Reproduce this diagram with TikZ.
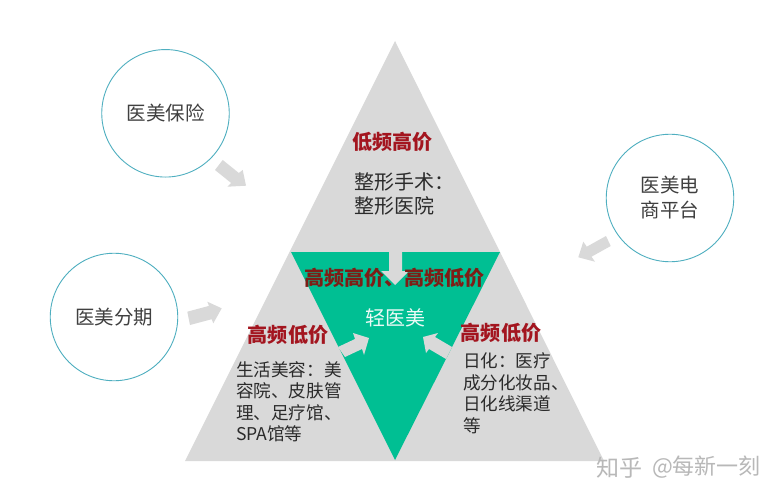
\documentclass[tikz,border=0pt]{standalone}
\usepackage{fontspec}
\setmainfont{Noto Sans CJK SC}
\definecolor{greyfill}{HTML}{D9D9D9}
\definecolor{greenfill}{HTML}{00BF93}
\definecolor{ringcol}{HTML}{4FAFC0}
\definecolor{redtxt}{HTML}{A3151F}
\definecolor{darkred}{HTML}{7E1D16}
\definecolor{bodytxt}{HTML}{2B2B2B}
\definecolor{ringtxt}{HTML}{404040}
\definecolor{marktxt}{HTML}{B8B8B8}
\tikzset{
  x=1pt,y=-1pt,
  txt/.style={inner sep=0pt,outer sep=0pt,text=bodytxt},
  ring/.style={circle,draw=ringcol,line width=0.9pt,fill=white,minimum size=127.5pt,inner sep=0pt,align=center,text=ringtxt,font=\fontsize{19.5}{25}\selectfont},
  head/.style={txt,text=redtxt,font=\fontsize{20.1}{24}\selectfont\bfseries},
  headdark/.style={txt,text=darkred,font=\fontsize{20.1}{24}\selectfont\bfseries},
  para/.style={txt,anchor=north west,align=left,font=\fontsize{17.6}{21.4}\selectfont},
  mainpara/.style={txt,anchor=north west,align=left,font=\fontsize{20}{24}\selectfont},
  blockarrow/.style={fill=greyfill,draw=none},
  wmark/.style={txt,text=marktxt,anchor=west}
}
\begin{document}
\begin{tikzpicture}
\useasboundingbox (0,0) rectangle (782,500);
\fill[white] (0,0) rectangle (782,500);
% triangles
\fill[greyfill] (395,41) -- (604,461) -- (185,461) -- cycle;
\fill[greenfill] (291,252) -- (500,252) -- (395,460) -- cycle;
% notch arrow in the green triangle
\fill[blockarrow] (389,252) -- (402,252) -- (402,271) -- (409,271) -- (395,285) -- (381,271) -- (389,271) -- cycle;
% block arrows
\fill[blockarrow] (215,170) -- (222.7,160) -- (238.85,173) -- (242.7,170) -- (246,185.7) -- (227.3,186.7) -- (231.15,183) -- cycle;
\fill[blockarrow] (187.3,311.7) -- (209,305.9) -- (207.3,301.7) -- (221.7,308.3) -- (213.3,323.3) -- (211.7,319.2) -- (190,325) -- cycle;
\fill[blockarrow] (606,236) -- (610.7,246) -- (591.5,256.7) -- (595,261.7) -- (578.3,257.3) -- (583.3,241.7) -- (586.8,246.7) -- cycle;
\fill[blockarrow] (338,347) -- (355,339) -- (353,333) -- (369,338) -- (364,355) -- (362,349) -- (345,357) -- cycle;
\fill[blockarrow] (452,347) -- (435,337) -- (438,333) -- (423,337) -- (426,353) -- (429,349) -- (446,359) -- cycle;
% circles
\node[ring] (insure) at (165.5,113.3) {医美保险};
\node[ring] (instal) at (114,317) {医美分期};
\node[ring] (shop) at (670,198) {医美电\\商平台};
% labels
\node[head] (top) at (392.5,141.5) {低频高价};
\node[mainpara] (topbody) at (354,173) {整形手术：\\整形医院};
\node[headdark] (mid) at (394.5,277.5) {高频高价、高频低价};
\node[txt,text=white!92!greenfill,font=\fontsize{20}{24}\selectfont] (light) at (395,318) {轻医美};
\node[head] (lefthead) at (288,335) {高频低价};
\node[head] (righthead) at (501,333) {高频低价};
\node[para] (leftbody) at (236,361.5) {生活美容：美\\容院、皮肤管\\理、足疗馆、\\SPA馆等};
\node[para] (rightbody) at (463,353) {日化：医疗\\成分化妆品、\\日化线渠道\\等};
% watermark
\node[wmark,font=\fontsize{23}{26}\selectfont] (wmzh) at (596,467.5) {知乎};
\node[wmark,font=\fontsize{22}{26}\selectfont] (wmname) at (652,467.5) {@每新一刻};
\end{tikzpicture}
\end{document}
